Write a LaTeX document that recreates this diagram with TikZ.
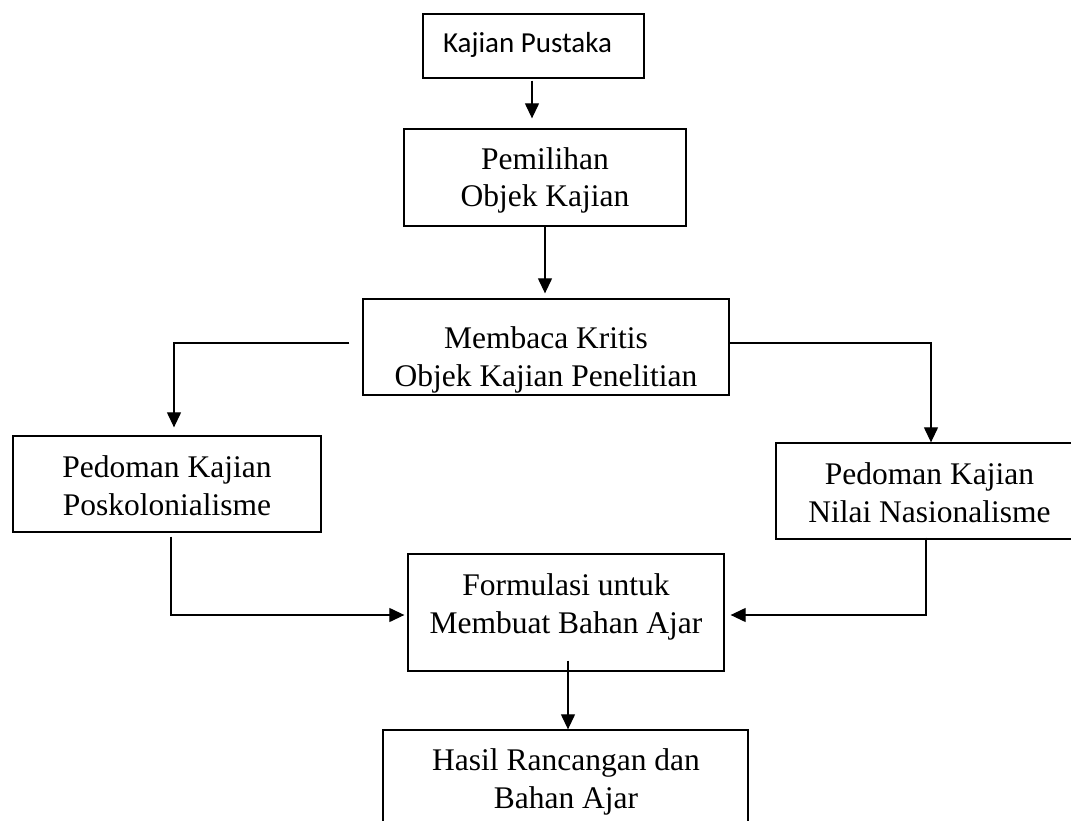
\documentclass[tikz,border=0pt]{standalone}
\usepackage{fontspec}
\setmainfont{Liberation Serif}
\newfontfamily\calibrifont{Carlito}
\usetikzlibrary{arrows.meta}
\begin{document}
\begin{tikzpicture}[x=1pt,y=-1pt,
  box/.style={draw, line width=1.3pt, inner sep=0pt},
  txt/.style={font=\fontsize{31.5}{38}\selectfont, align=center, inner sep=0pt, anchor=base},
  arr/.style={line width=1.2pt, -{Triangle[length=15pt,width=14pt]}}]
\clip (0,0) rectangle (1071,821);
% boxes
\node[box, minimum width=221pt, minimum height=64pt] (k) at (533.5,46) {};
\node[box, minimum width=282pt, minimum height=97pt] (p) at (545,177.5) {};
\node[box, minimum width=366pt, minimum height=96pt] (m) at (546,347) {};
\node[box, minimum width=308pt, minimum height=96pt] (pk) at (167,484) {};
\node[box, minimum width=307pt, minimum height=96pt] (nn) at (929.5,491) {};
\node[box, minimum width=316pt, minimum height=117pt] (f) at (566,612.5) {};
\node[box, minimum width=365pt, minimum height=116pt] (h) at (565.5,788) {};
% texts (anchor=base is the baseline of the last line)
\node[inner sep=0pt, anchor=base, font=\calibrifont\fontsize{29}{35}\selectfont] (kt) at (527.5,53) {Kajian Pustaka};
\node[txt, font=\fontsize{31.5}{37}\selectfont] (pt) at (545,207) {Pemilihan\\Objek Kajian};
\node[txt] (mt) at (546,386) {Membaca Kritis\\Objek Kajian Penelitian};
\node[txt] (pkt) at (167,515) {Pedoman Kajian\\Poskolonialisme};
\node[txt] (nnt) at (929.5,522) {Pedoman Kajian\\Nilai Nasionalisme};
\node[txt] (ft) at (566,633) {Formulasi untuk\\Membuat Bahan Ajar};
\node[txt] (ht) at (566,808) {Hasil Rancangan dan\\Bahan Ajar};
% connectors
\draw[arr, shorten <=2pt, shorten >=10pt] ([xshift=-1.5pt]k.south) -- ([xshift=-1.5pt]k.south |- p.north);
\draw[arr, shorten >=5pt] (p.south) -- (p.south |- m.north);
\draw[arr, shorten <=13pt, shorten >=8pt] ([yshift=4pt]m.west) -| ([xshift=7pt]pk.north);
\draw[arr] ([yshift=4pt]m.east) -| ([xshift=1.5pt]nn.north);
\draw[arr, shorten <=4pt, shorten >=3pt] ([xshift=4pt]pk.south) |- ([yshift=-2.5pt]f.west);
\draw[arr, shorten >=6pt] ([xshift=-3.5pt,yshift=2pt]nn.south) |- ([yshift=-2.5pt]f.east);
\draw[arr] ([xshift=2pt,yshift=11pt]f.south) -- ([xshift=2pt]f.south |- h.north);
\end{tikzpicture}
\end{document}
